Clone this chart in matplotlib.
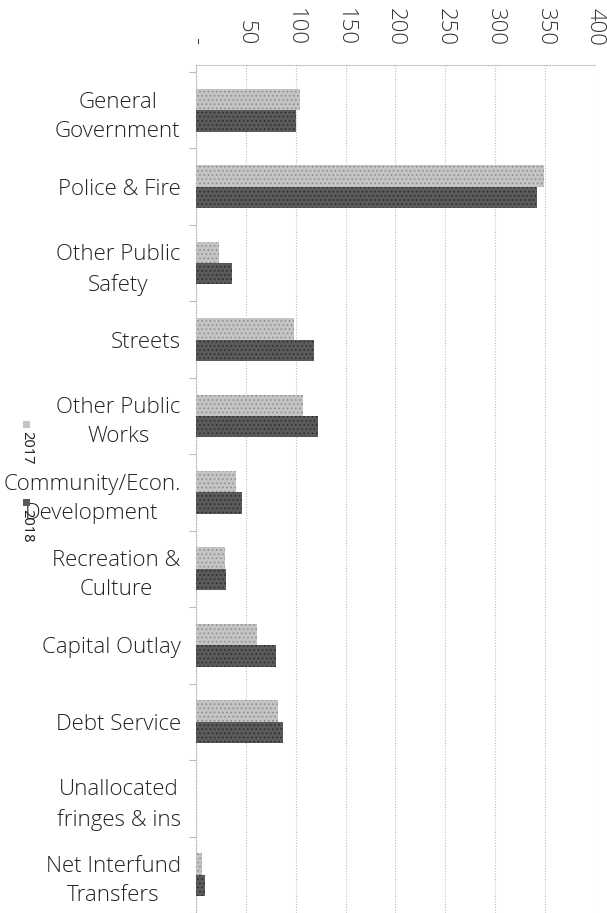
import matplotlib
matplotlib.use("Agg")
import matplotlib.pyplot as plt
from matplotlib.patches import Rectangle
import numpy as np

categories = ["General\nGovernment", "Police & Fire", "Other Public\nSafety", "Streets",
              "Other Public\nWorks", "Community/Econ.\nDevelopment", "Recreation &\nCulture",
              "Capital Outlay", "Debt Service", "Unallocated\nfringes & ins", "Net Interfund\nTransfers"]
values_2017 = [104, 349, 23, 98, 107, 40, 29, 61, 82, 0, 6]
values_2018 = [100, 342, 36, 118, 122, 46, 30, 80, 87, 0, 9]
series_names = ["2017", "2018"]
x_ticks = [0, 50, 100, 150, 200, 250, 300, 350, 400]
x_tick_labels = ["-", "50", "100", "150", "200", "250", "300", "350", "400"]

plt.rcParams["hatch.linewidth"] = 0.6

W, H = 607, 913
fig = plt.figure(figsize=(W / 100, H / 100), dpi=100)
ax = fig.add_axes([196 / W, 0, 399 / W, 848 / H])

c17 = "#c4c4c4"
c18 = "#5a5a5a"
y = np.arange(len(categories))
bh = 0.28
ax.barh(y - bh / 2, values_2017, height=bh, color=c17, edgecolor="#8a8a8a", linewidth=0,
        hatch="....", zorder=3)
ax.barh(y + bh / 2, values_2018, height=bh, color=c18, edgecolor="#2a2a2a", linewidth=0,
        hatch="....", zorder=3)

ax.set_xlim(0, 400)
ax.set_ylim(10.42, -0.59)

ax.xaxis.tick_top()
ax.set_xticks(x_ticks)
ax.set_xticklabels(x_tick_labels, rotation=-90, fontsize=16, family="Open Sans",
                   fontweight="light", color="#333333", va="bottom", ha="center")
ax.tick_params(axis="x", length=0, pad=14)
ax.grid(axis="x", color="#bbbbbb", linestyle=(0, (1, 1.5)), linewidth=0.8, zorder=0)

ax.set_yticks(y)
ax.set_yticklabels(categories, fontsize=16, family="Open Sans", fontweight="light",
                   color="#222222", multialignment="center", linespacing=1.5)
ax.tick_params(axis="y", length=0, pad=11)
ax.set_yticks(np.arange(len(categories) + 1) - 0.5, minor=True)
ax.tick_params(axis="y", which="minor", length=5, width=0.8, color="#bbbbbb")

for s in ["right", "bottom"]:
    ax.spines[s].set_visible(False)
for s in ["left", "top"]:
    ax.spines[s].set_color("#bbbbbb")
    ax.spines[s].set_linestyle((0, (1, 1.5)))
    ax.spines[s].set_linewidth(0.8)

# rotated legend on the left
for i, (name, col) in enumerate(zip(series_names, [c17, c18])):
    y0 = 421 + i * 78
    fig.patches.append(Rectangle((23 / W, 1 - (y0 + 7) / H), 7 / W, 7 / H,
                                 transform=fig.transFigure, facecolor=col, edgecolor="none"))
    fig.text(27 / W, 1 - (y0 + 10) / H, name, rotation=-90, fontsize=10.5, family="Noto Sans",
             color="#222222", ha="center", va="top")

fig.savefig("out.png", dpi=100)
